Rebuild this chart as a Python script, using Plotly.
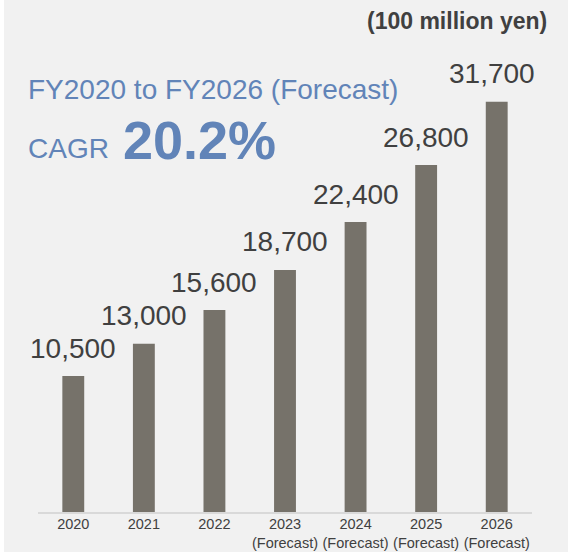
import plotly.graph_objects as go

# Net sales by fiscal year (100 million yen)
years = ["2020", "2021", "2022", "2023", "2024", "2025", "2026"]
tick_labels = ["2020", "2021", "2022", "2023<br>(Forecast)", "2024<br>(Forecast)",
               "2025<br>(Forecast)", "2026<br>(Forecast)"]
sales = [10500, 13000, 15600, 18700, 22400, 26800, 31700]
value_labels = [f"{v:,}" for v in sales]

W, H = 577, 552
L, R, T, B = 38, 45, 12, 40
plot_w = W - L - R
plot_h = H - T - B

BG = "#f1f1f1"
BAR = "#76726a"
TEXT = "#404040"
BLUE = "#6184b8"
FONT = "Liberation Sans, Arial, sans-serif"


def px_x(px):
    return (px - L) / plot_w


def px_y(py):
    return 1 - (py - T) / plot_h


fig = go.Figure()
fig.add_trace(go.Bar(
    x=years, y=sales,
    width=0.31,
    marker=dict(color=BAR, line=dict(width=0)),
    hoverinfo="skip",
))

# Value labels above each bar (category index positions);
# the rightmost one is nudged inward to stay clear of the panel edge
last = len(sales) - 1
for i, (v, lab) in enumerate(zip(sales, value_labels)):
    fig.add_annotation(x=i, y=v, xref="x", yref="y", text=lab, showarrow=False,
                       xanchor="center", yanchor="middle", yshift=28,
                       xshift=-5 if i == last else 0,
                       font=dict(family=FONT, size=28, color=TEXT))

# White edges on either side of the grey panel
for x0, x1 in [(0, 4), (568, W)]:
    fig.add_shape(type="rect", xref="paper", yref="paper",
                  x0=px_x(x0), x1=px_x(x1), y0=-1, y1=2,
                  fillcolor="white", line=dict(width=0), layer="below")

fig.add_annotation(text="<b>(100 million yen)</b>", xref="paper", yref="paper",
                   x=px_x(549), y=px_y(21),
                   xanchor="right", yanchor="middle", showarrow=False,
                   font=dict(family=FONT, size=23, color=TEXT))
fig.add_annotation(text="FY2020 to FY2026 (Forecast)", xref="paper", yref="paper",
                   x=px_x(26), y=px_y(89.5),
                   xanchor="left", yanchor="middle", showarrow=False,
                   font=dict(family=FONT, size=28, color=BLUE))
fig.add_annotation(text="CAGR", xref="paper", yref="paper",
                   x=px_x(26), y=px_y(148.5),
                   xanchor="left", yanchor="middle", showarrow=False,
                   font=dict(family=FONT, size=28, color=BLUE))
fig.add_annotation(text="<b>20.2%</b>", xref="paper", yref="paper",
                   x=px_x(121), y=px_y(139.5),
                   xanchor="left", yanchor="middle", showarrow=False,
                   font=dict(family=FONT, size=54, color=BLUE))

fig.update_layout(
    width=W, height=H,
    margin=dict(l=L, r=R, t=T, b=B),
    paper_bgcolor=BG, plot_bgcolor=BG,
    showlegend=False,
    xaxis=dict(
        type="category",
        tickmode="array", tickvals=years, ticktext=tick_labels,
        range=[-0.5, 6.5], automargin=False,
        showline=True, linecolor="#d9d9d9", linewidth=2,
        showgrid=False, ticks="", zeroline=False,
        ticklabelstandoff=-2,
        tickfont=dict(family=FONT, size=14.5, color=TEXT),
    ),
    yaxis=dict(
        range=[0, 38625], visible=False, showgrid=False, zeroline=False,
        automargin=False,
    ),
)

fig.write_html("out.html")
